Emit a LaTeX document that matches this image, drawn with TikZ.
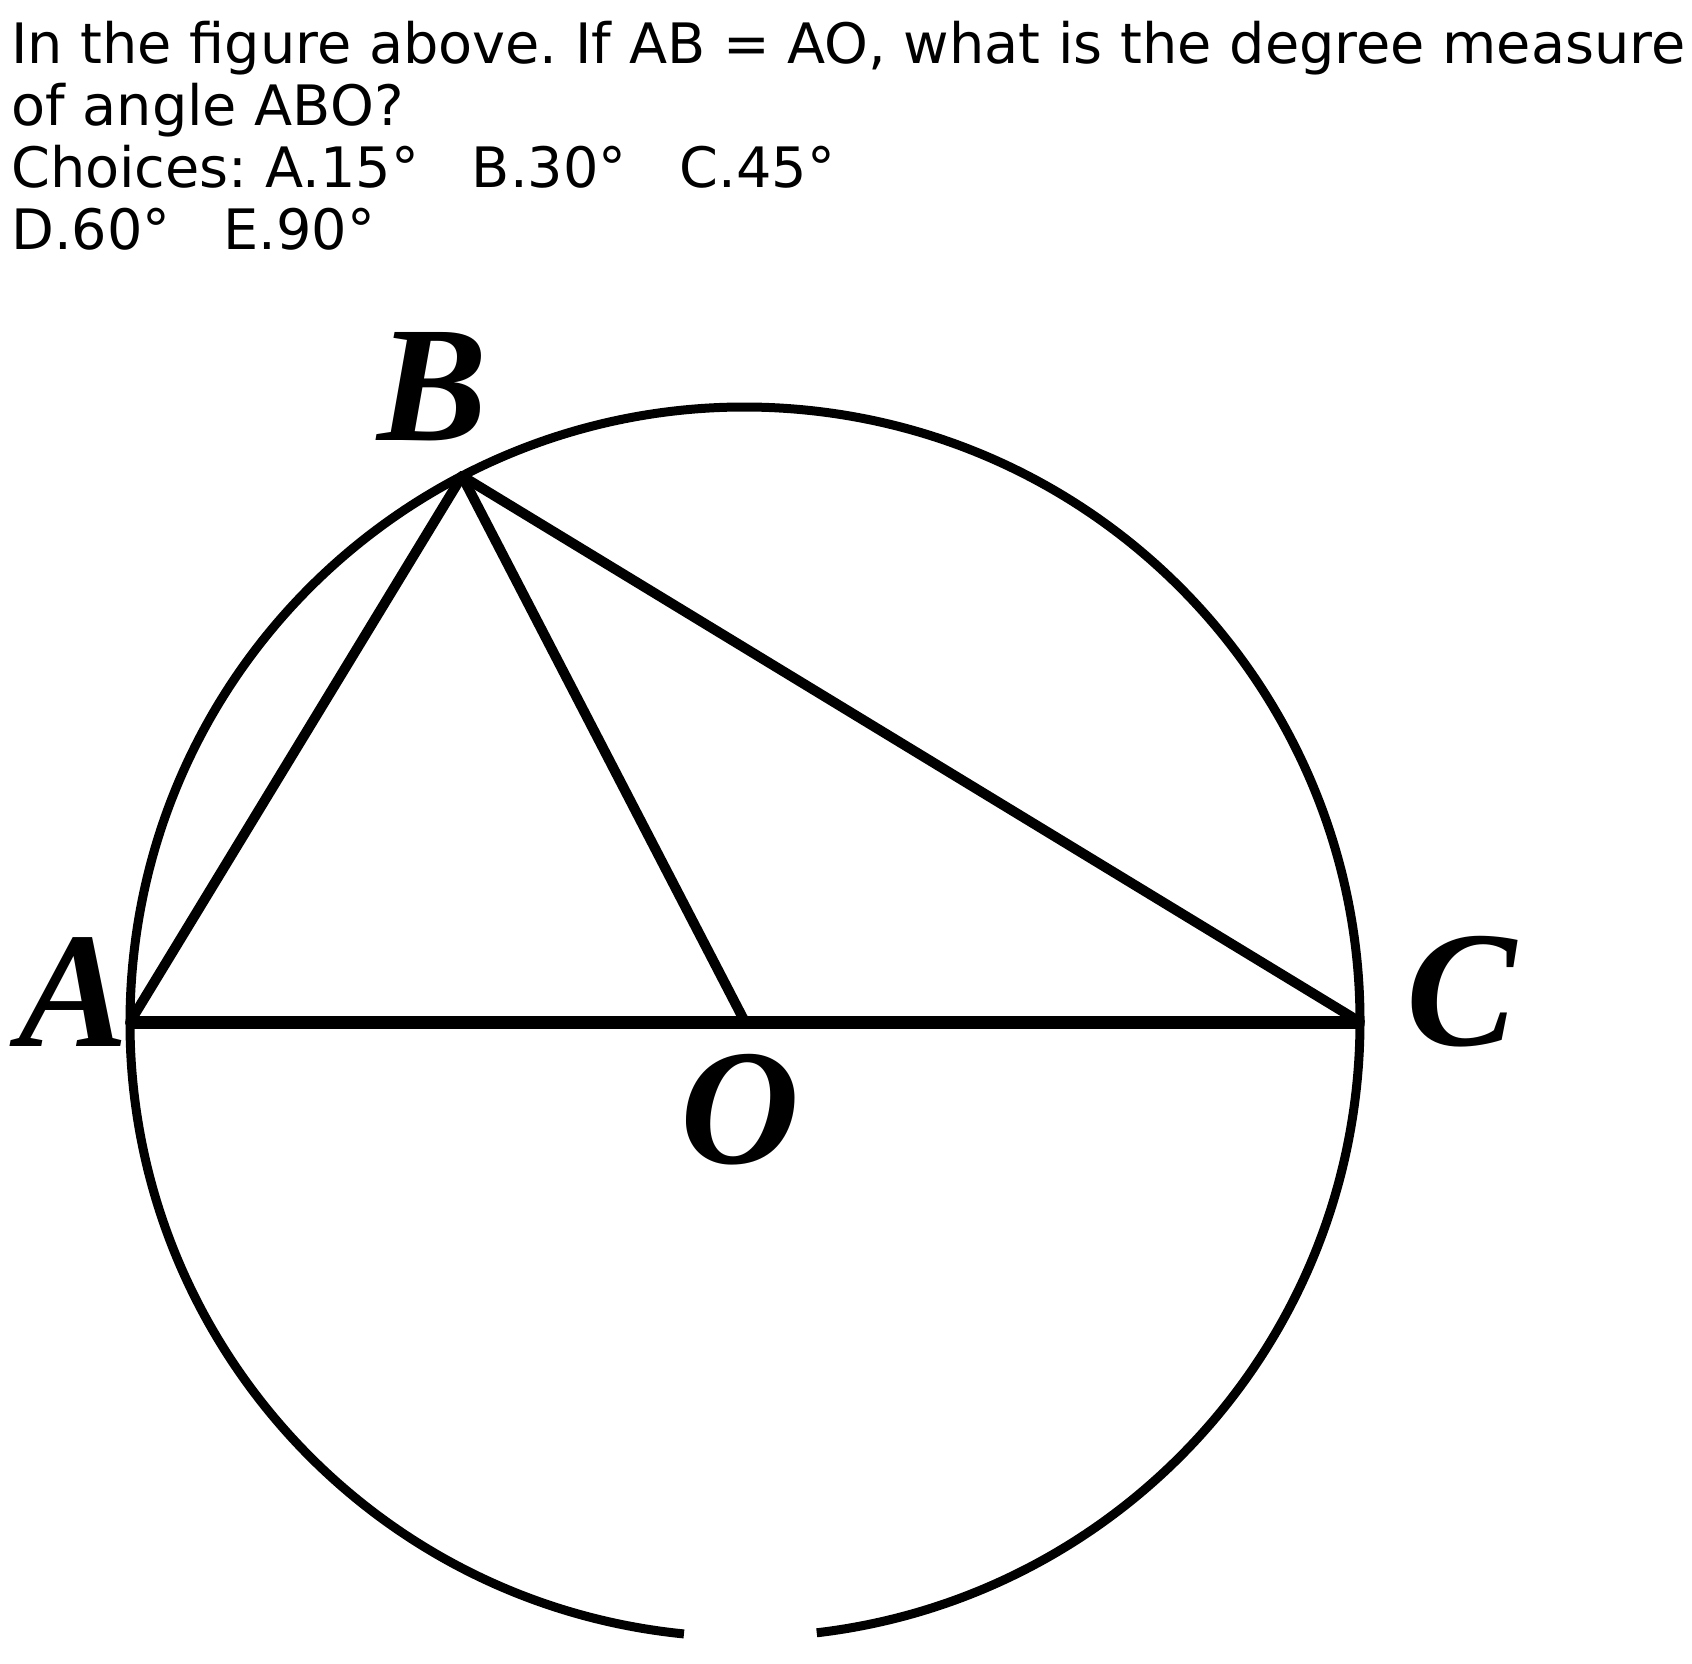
\documentclass[tikz,border=0pt]{standalone}
\usepackage{fontspec}
\usetikzlibrary{calc}
\setmainfont{DejaVu Sans}
\newfontfamily\lblfont{Liberation Serif}
\frenchspacing
\tikzset{
  lbl/.style={inner sep=0pt, font=\lblfont\itshape\bfseries\fontsize{165}{165}\selectfont},
  seg/.style={line width=10pt, line cap=round}
}
\begin{document}
\begin{tikzpicture}[x=1pt,y=-1pt]
\useasboundingbox (0,0) rectangle (1692,1663);

\node[anchor=base west, inner sep=0pt, align=left, font=\fontsize{55.7}{62}\selectfont] (question) at (11,249)
  {In the figure above. If AB = AO, what is the degree measure\\
   of angle ABO?\\
   Choices: A.15°\ \ \ B.30°\ \ \ C.45°\\
   D.60°\ \ \ E.90°};

\coordinate (O) at (745,1022);
\coordinate (A) at (130,1022);
\coordinate (C) at (1360,1022);
\coordinate (B) at ($(O)+(242.6:615)$);

\draw[line width=9pt] (O) ++(95.7:615) arc[start angle=95.7, end angle=443.3, radius=615];

\draw[seg] (A)--(B);
\draw[seg] (B)--(O);
\draw[seg] (B)--(C);
\draw[line width=13pt] (A)--(C);

\node[lbl] (labA) at (74,992) {A};
\node[lbl] (labB) at (433,387) {B};
\node[lbl] (labC) at (1462,992) {C};
\node[lbl] (labO) at (740,1110) {O};
\end{tikzpicture}
\end{document}
